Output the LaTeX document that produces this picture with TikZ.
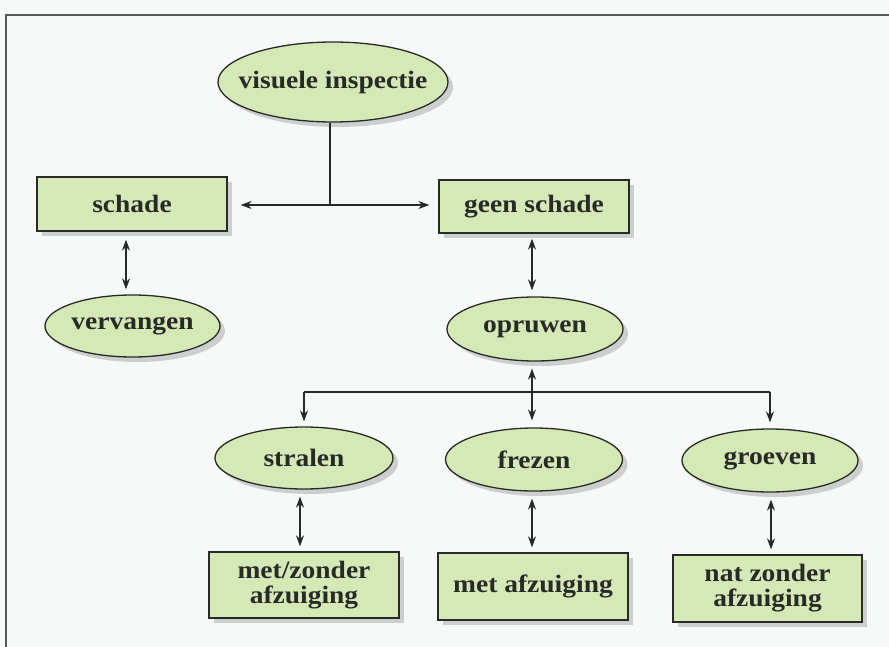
\documentclass[tikz,border=0pt]{standalone}
\usepackage{fontspec}
\setmainfont[FakeStretch=1.1]{Liberation Serif}
\usetikzlibrary{shapes.geometric,shadows,arrows.meta}
\definecolor{boxgreen}{RGB}{213,233,182}
\definecolor{bgpaper}{RGB}{247,248,248}
\definecolor{ink}{RGB}{40,42,40}
\definecolor{framegray}{RGB}{85,88,90}
\newcommand{\ovaltext}[1]{\makebox[0pt]{#1}}
\tikzset{
  base/.style={draw=ink, line width=1.3pt, fill=boxgreen, inner sep=0pt,
    font=\bfseries\fontsize{25}{25}\selectfont, text=ink, align=center,
    drop shadow={shadow xshift=5pt, shadow yshift=-5pt, fill=black!30, opacity=0.6}},
  oval/.style={base, ellipse},
  box/.style={base, rectangle},
  conn/.style={draw=ink, line width=1.1pt},
  arr/.style={conn, -{Stealth[length=11pt,width=8pt]}},
  darr/.style={conn, {Stealth[length=11pt,width=8pt]}-{Stealth[length=11pt,width=8pt]}}
}
\begin{document}
\begin{tikzpicture}[x=1pt,y=-1pt]
\useasboundingbox (0,0) rectangle (889,647);
\fill[bgpaper] (0,0) rectangle (889,647);
\draw[framegray, line width=1.6pt] (6,647) -- (6,15) -- (889,15);

\node[oval, minimum width=230pt, minimum height=80pt] (vis) at (333,82) {\ovaltext{visuele inspectie}};
\node[box, minimum width=190pt, minimum height=54pt] (schade) at (132,204) {schade};
\node[box, minimum width=190pt, minimum height=53pt] (geen) at (534,206.5) {geen schade};
\node[oval, minimum width=175pt, minimum height=62pt] (verv) at (132.5,326) {\ovaltext{vervangen}};
\node[oval, minimum width=176pt, minimum height=64pt] (opr) at (535,329) {\ovaltext{opruwen}};
\node[oval, minimum width=178pt, minimum height=62pt] (stral) at (304,458) {\ovaltext{stralen}};
\node[oval, minimum width=177pt, minimum height=63pt] (frez) at (534,459.5) {\ovaltext{frezen}};
\node[oval, minimum width=176pt, minimum height=63pt] (groev) at (770,460.5) {\ovaltext{groeven}};
\node[box, minimum width=190pt, minimum height=66pt] (mz) at (304,585) {met/zonder\\afzuiging};
\node[box, minimum width=190pt, minimum height=67pt] (ma) at (533,586.5) {met afzuiging};
\node[box, minimum width=189pt, minimum height=67pt] (nz) at (767.5,588.5) {nat zonder\\afzuiging};

% top split
\coordinate (j1) at (330,205);
\draw[conn] (vis.south -| j1) -- (j1);
\draw[arr, shorten >=13pt] (j1) -- (j1 -| schade.east);
\draw[arr, shorten >=9pt] (j1) -- (j1 -| geen.west);

% vertical double arrows
\draw[darr, shorten <=8pt, shorten >=5pt] ([xshift=-6pt]schade.south) -- ([xshift=-6.5pt]verv.north);
\draw[darr, shorten <=5pt, shorten >=6pt] ([xshift=-2pt]geen.south) -- ([xshift=-3pt]opr.north);
\draw[darr, shorten <=7pt, shorten >=7pt] ([xshift=-3pt]opr.south) -- ([xshift=-2pt]frez.north);

% lower split
\coordinate (j2) at (532,392);
\draw[conn] (j2 -| stral.north) -- (j2 -| groev.north);
\draw[arr, shorten >=5pt] (j2 -| stral.north) -- (stral.north);
\draw[arr, shorten >=6pt] (j2 -| groev.north) -- (groev.north);

\draw[darr, shorten <=7pt, shorten >=5pt] ([xshift=-4pt]stral.south) -- ([xshift=-4pt]stral.south |- mz.north);
\draw[darr, shorten <=7pt, shorten >=5pt] ([xshift=-2pt]frez.south) -- ([xshift=-2pt]frez.south |- ma.north);
\draw[darr, shorten <=7pt, shorten >=5pt] ([xshift=1pt]groev.south) -- ([xshift=1pt]groev.south |- nz.north);
\end{tikzpicture}
\end{document}
